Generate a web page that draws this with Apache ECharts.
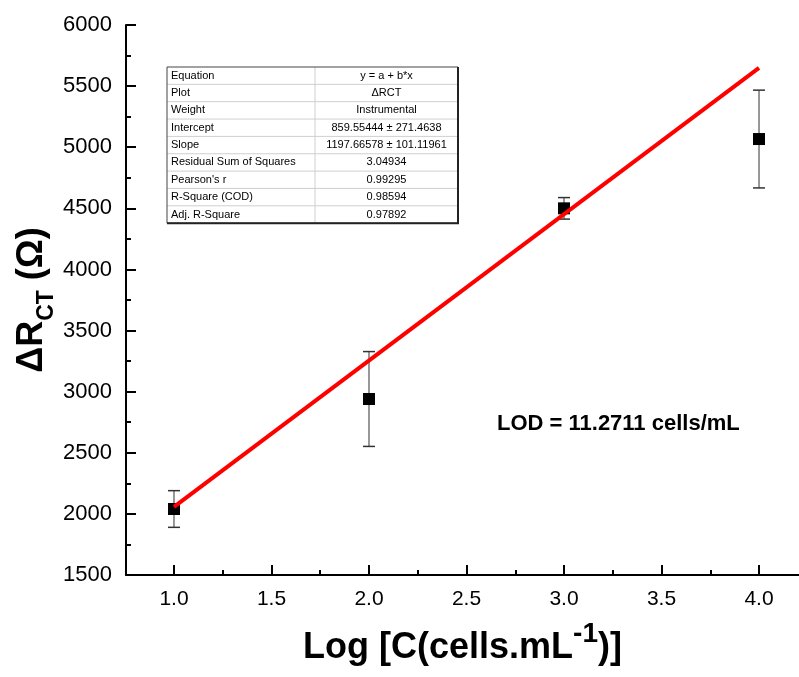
<!DOCTYPE html>
<html>
<head>
<meta charset="utf-8">
<script src="https://cdn.jsdelivr.net/npm/echarts@6/dist/echarts.min.js"></script>
<style>
  html, body { margin: 0; padding: 0; background: #fff; }
  #chart { width: 799px; height: 677px; }
</style>
</head>
<body>
<div id="chart"></div>
<script>
  // measured points (log concentration vs delta Rct)
  var logConc = [1, 2, 3, 4];
  var deltaRct = [2040, 2940, 4500, 5067];
  var errBar = [150, 388, 88, 400];

  // linear fit line, end points
  var fitX = [1, 4];
  var fitY = [2057, 5650];

  var xTicks = [1.0, 1.5, 2.0, 2.5, 3.0, 3.5, 4.0];
  var xMinorTicks = [1.25, 1.75, 2.25, 2.75, 3.25, 3.75];

  var tableNames = ['Equation', 'Plot', 'Weight', 'Intercept', 'Slope',
    'Residual Sum of Squares', "Pearson's r", 'R-Square (COD)', 'Adj. R-Square'];
  var tableValues = ['y = a + b*x', 'ΔRCT', 'Instrumental', '859.55444 ± 271.4638',
    '1197.66578 ± 101.11961', '3.04934', '0.99295', '0.98594', '0.97892'];

  var lodText = 'LOD = 11.2711 cells/mL';

  var FONT = 'Liberation Sans, Arial, sans-serif';

  var chart = echarts.init(document.getElementById('chart'));

  var pts = logConc.map(function (x, i) { return [x, deltaRct[i]]; });
  var errs = logConc.map(function (x, i) { return [x, deltaRct[i] - errBar[i], deltaRct[i] + errBar[i]]; });
  var fit = fitX.map(function (x, i) { return [x, fitY[i]]; });

  // table of fit results
  var tbl = { left: 167, top: 67, width: 291, rowH: 17.35, split: 315 };
  var tableEls = [];
  for (var i = 0; i < tableNames.length; i++) {
    var cy = tbl.top + tbl.rowH * (i + 0.5);
    if (i > 0) {
      tableEls.push({
        type: 'line',
        shape: { x1: tbl.left, y1: tbl.top + tbl.rowH * i, x2: tbl.left + tbl.width, y2: tbl.top + tbl.rowH * i },
        style: { stroke: '#cfcfcf', lineWidth: 1 }
      });
    }
    tableEls.push({
      type: 'text', x: tbl.left + 4, y: cy,
      style: { text: tableNames[i], font: '11px ' + FONT, fill: '#000', verticalAlign: 'middle', align: 'left' }
    });
    tableEls.push({
      type: 'text', x: (tbl.split + tbl.left + tbl.width) / 2, y: cy,
      style: { text: tableValues[i], font: '11px ' + FONT, fill: '#000', verticalAlign: 'middle', align: 'center' }
    });
  }
  tableEls.push({
    type: 'line',
    shape: { x1: tbl.split, y1: tbl.top, x2: tbl.split, y2: tbl.top + tbl.rowH * tableNames.length },
    style: { stroke: '#cfcfcf', lineWidth: 1 }
  });
  tableEls.push({
    type: 'rect',
    shape: { x: tbl.left, y: tbl.top, width: tbl.width, height: tbl.rowH * tableNames.length },
    style: { fill: 'none', stroke: '#444', lineWidth: 1 }
  });
  tableEls.push({
    type: 'polyline',
    shape: { points: [[tbl.left + tbl.width, tbl.top], [tbl.left + tbl.width, tbl.top + tbl.rowH * 9], [tbl.left, tbl.top + tbl.rowH * 9]] },
    style: { stroke: '#222', lineWidth: 2, fill: 'none' }
  });

  var option = {
    animation: false,
    backgroundColor: '#fff',
    grid: [
      { left: 126, right: 0, top: 25, bottom: 102 },
      { left: 126, right: 0, top: 25, bottom: 102 }
    ],
    xAxis: [
      {
        type: 'value', gridIndex: 0, min: 0.754, max: 4.205,
        splitLine: { show: false },
        axisLine: { show: true, onZero: false, lineStyle: { color: '#000', width: 2 } },
        axisTick: { show: true, inside: true, length: 10, customValues: xTicks, lineStyle: { color: '#000', width: 2 } },
        axisLabel: {
          customValues: xTicks, margin: 14, color: '#000', fontSize: 21, fontFamily: FONT,
          formatter: function (v) { return v.toFixed(1); }
        },
        name: '{a|Log [C(cells.mL}{s|-1}{a|)]}',
        nameLocation: 'middle', nameGap: 55, nameMoveOverlap: false,
        nameTextStyle: {
          rich: {
            a: { fontSize: 36, fontWeight: 'bold', fontFamily: FONT, color: '#000', lineHeight: 36, verticalAlign: 'bottom' },
            s: { fontSize: 28, fontWeight: 'bold', fontFamily: FONT, color: '#000', lineHeight: 28, padding: [0, 0, 18, 0], verticalAlign: 'bottom' }
          }
        }
      },
      {
        type: 'value', gridIndex: 1, min: 0.754, max: 4.205,
        splitLine: { show: false },
        axisLine: { show: false, onZero: false },
        axisTick: { show: true, inside: true, length: 5, customValues: xMinorTicks, lineStyle: { color: '#000', width: 2 } },
        axisLabel: { show: false }
      }
    ],
    yAxis: [
      {
        type: 'value', gridIndex: 0, min: 1500, max: 6000, interval: 500,
        splitLine: { show: false },
        axisLine: { show: true, onZero: false, lineStyle: { color: '#000', width: 2 } },
        axisTick: { show: true, inside: true, length: 10, lineStyle: { color: '#000', width: 2 } },
        minorTick: { show: true, splitNumber: 2, length: 5, lineStyle: { color: '#000', width: 2 } },
        axisLabel: {
          margin: 14, color: '#000', fontSize: 22, fontFamily: FONT,
          formatter: function (v) { return String(v); }
        },
        name: '{a|ΔR}{b|CT}{a| (Ω)}',
        nameLocation: 'middle', nameRotate: 90, nameGap: 68, nameMoveOverlap: false,
        nameTextStyle: {
          rich: {
            a: { fontSize: 36, fontWeight: 'bold', fontFamily: FONT, color: '#000', lineHeight: 36, padding: [0, 0, 8, 0], verticalAlign: 'bottom' },
            b: { fontSize: 23, fontWeight: 'bold', fontFamily: FONT, color: '#000', lineHeight: 23, verticalAlign: 'bottom' }
          }
        }
      },
      {
        type: 'value', gridIndex: 1, min: 1500, max: 6000, show: false
      }
    ],
    series: [
      {
        type: 'custom',
        xAxisIndex: 0, yAxisIndex: 0,
        data: errs,
        encode: { x: 0, y: [1, 2] },
        z: 2,
        renderItem: function (params, api) {
          var top = api.coord([api.value(0), api.value(2)]);
          var bot = api.coord([api.value(0), api.value(1)]);
          var w = 6;
          return {
            type: 'group',
            children: [
              { type: 'line', shape: { x1: top[0], y1: top[1], x2: bot[0], y2: bot[1] }, style: { stroke: '#777', lineWidth: 1.5 } },
              { type: 'line', shape: { x1: top[0] - w, y1: top[1], x2: top[0] + w, y2: top[1] }, style: { stroke: '#333', lineWidth: 1.5 } },
              { type: 'line', shape: { x1: bot[0] - w, y1: bot[1], x2: bot[0] + w, y2: bot[1] }, style: { stroke: '#333', lineWidth: 1.5 } }
            ]
          };
        }
      },
      {
        type: 'scatter',
        xAxisIndex: 0, yAxisIndex: 0,
        data: pts,
        symbol: 'rect', symbolSize: 12,
        itemStyle: { color: '#000', opacity: 1 },
        z: 3
      },
      {
        type: 'line',
        xAxisIndex: 0, yAxisIndex: 0,
        data: fit,
        showSymbol: false,
        lineStyle: { color: '#ff0000', width: 4 },
        z: 4
      }
    ],
    graphic: [
      { type: 'group', children: tableEls },
      {
        type: 'text', left: 497, top: 413,
        style: { text: lodText, font: 'bold 22px ' + FONT, fill: '#000' }
      }
    ]
  };

  chart.setOption(option);
</script>
</body>
</html>
